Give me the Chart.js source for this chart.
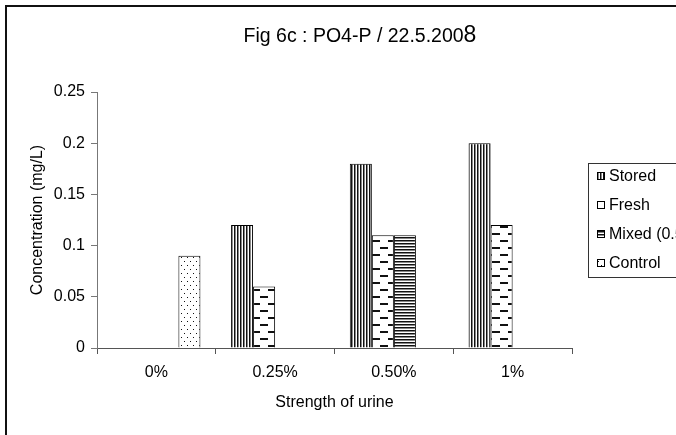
<!DOCTYPE html>
<html>
<head>
<meta charset="utf-8">
<title>Fig 6c : PO4-P / 22.5.2008</title>
<script src="https://cdn.jsdelivr.net/npm/chart.js@4.4.0/dist/chart.umd.min.js"></script>
<style>
  html, body { margin:0; padding:0; background:#fff; overflow:hidden; }
  #wrap { position:relative; width:676px; height:435px; }
</style>
</head>
<body>
<div id="wrap"><canvas id="chart"></canvas></div>
<script>
const CATEGORIES = ['0%', '0.25%', '0.50%', '1%'];
const STORED  = [null, 0.12, 0.18, 0.20];
const FRESH   = [null, 0.06, 0.11, 0.12];
const MIXED   = [null, null, 0.11, null];
const CONTROL = [0.09, null, null, null];
const Y_TICKS = [0, 0.05, 0.1, 0.15, 0.2, 0.25];
const TITLE_MAIN = 'Fig 6c : PO4-P / 22.5.200';
const TITLE_LAST = '8';

const FONT = '"Liberation Sans", Arial, sans-serif';
Chart.defaults.font.family = FONT;
Chart.defaults.font.size = 16;
Chart.defaults.color = '#000';

// little tiles to mimic the old excel fill patterns
function makePattern(w, h, draw){
  const c = document.createElement('canvas');
  c.width = w; c.height = h;
  const g = c.getContext('2d');
  g.fillStyle = '#fff'; g.fillRect(0,0,w,h);
  draw(g);
  return document.createElement('canvas').getContext('2d').createPattern(c, 'repeat');
}
const patStored = makePattern(3, 1, g=>{ g.fillStyle='#111'; g.fillRect(0,0,1,1); g.fillStyle='#888'; g.fillRect(1,0,1,1); });
const patMixed  = makePattern(1, 3, g=>{ g.fillStyle='#111'; g.fillRect(0,0,1,1); g.fillStyle='#888'; g.fillRect(0,1,1,1); });
const patFresh  = makePattern(16, 14, g=>{ g.fillStyle='#111'; g.fillRect(4,2,8,2); g.fillRect(12,9,4,2); g.fillRect(0,9,4,2); });
const patControl= makePattern(6, 8, g=>{ g.fillStyle='#111'; g.fillRect(1,1,1,1); g.fillRect(4,5,1,1); });

const SERIES = [
  { label:'Stored',       data:STORED,  fill:patStored  },
  { label:'Fresh',        data:FRESH,   fill:patFresh   },
  { label:'Mixed (0.5%)', data:MIXED,   fill:patMixed   },
  { label:'Control',      data:CONTROL, fill:patControl },
];

const frameAndTitle = {
  id:'frameAndTitle',
  beforeDraw(chart){
    const ctx = chart.ctx;
    ctx.save();
    ctx.fillStyle = '#111';
    ctx.fillRect(5, 5, 2, 440);
    ctx.fillRect(5, 5, 680, 2);
    ctx.restore();
  },
  afterDraw(chart){
    const ctx = chart.ctx;
    ctx.save();
    // title, last digit a bit bigger like in the source
    ctx.fillStyle = '#000';
    ctx.textBaseline = 'alphabetic';
    ctx.font = '19.5px ' + FONT;
    const w1 = ctx.measureText(TITLE_MAIN).width;
    ctx.font = '23px ' + FONT;
    const w2 = ctx.measureText(TITLE_LAST).width;
    let x = 360 - (w1 + w2) / 2;
    ctx.font = '19.5px ' + FONT;
    ctx.fillText(TITLE_MAIN, x, 42);
    ctx.font = '23px ' + FONT;
    ctx.fillText(TITLE_LAST, x + w1, 42);

    // legend box
    ctx.strokeStyle = '#333';
    ctx.lineWidth = 1;
    ctx.strokeRect(588.5, 163.5, 200, 114);
    ctx.font = '16px ' + FONT;
    ctx.textBaseline = 'middle';
    SERIES.forEach((s, i)=>{
      const y = 176 + i * 29;
      ctx.fillStyle = s.fill;
      ctx.fillRect(597, y - 4, 8, 8);
      ctx.strokeStyle = '#000';
      ctx.strokeRect(597.5, y - 3.5, 7, 7);
      ctx.fillStyle = '#000';
      ctx.fillText(s.label, 609, y + 1);
    });
    ctx.restore();
  }
};

new Chart(document.getElementById('chart'), {
  type:'bar',
  data:{
    labels: CATEGORIES,
    datasets: SERIES.map(s=>({
      label: s.label, data: s.data,
      backgroundColor: s.fill, borderColor:'#000', borderWidth:1,
      barPercentage:1, categoryPercentage:0.742
    }))
  },
  options:{
    responsive:true, maintainAspectRatio:false, animation:false,
    layout:{ padding:{ left:28, right:104, top:92, bottom:0 } },
    plugins:{ legend:{ display:false }, title:{ display:false }, tooltip:{ enabled:false } },
    scales:{
      x:{
        grid:{ drawOnChartArea:false, drawTicks:true, tickLength:6, color:'#555' },
        border:{ color:'#555', width:1 },
        ticks:{ padding:9, maxRotation:0 },
        title:{ display:true, text:'Strength of urine', padding:{ top:0, bottom:23 } },
        afterFit(s){ s.height = 87; }
      },
      y:{
        min:0, max:0.25,
        afterBuildTicks(s){ s.ticks = Y_TICKS.map(v=>({ value:v })); },
        grid:{ drawOnChartArea:false, drawTicks:true, tickLength:6, color:'#777' },
        border:{ color:'#777', width:1 },
        ticks:{ padding:6, callback:v=>String(+v.toFixed(2)) },
        title:{ display:true, text:'Concentration (mg/L)', padding:{ top:0, bottom:0 } },
        afterFit(s){ s.width = 69; }
      }
    }
  },
  plugins:[frameAndTitle]
});
</script>
</body>
</html>
